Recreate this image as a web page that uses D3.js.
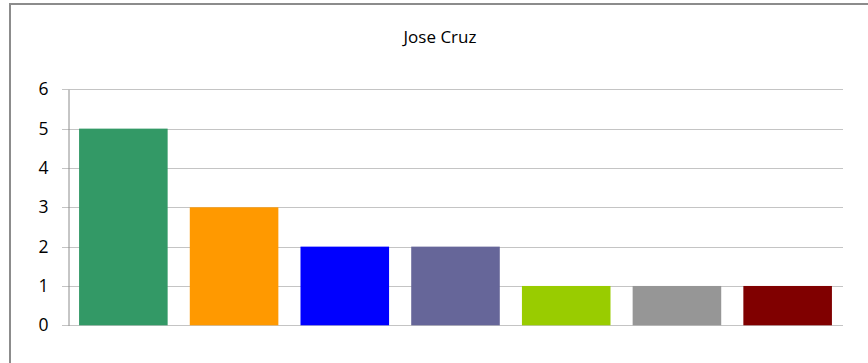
<!DOCTYPE html>
<html>
<head>
<meta charset="utf-8">
<script src="https://cdn.jsdelivr.net/npm/d3@7"></script>
<style>
  html, body { margin: 0; padding: 0; background: #fff; }
  svg { display: block; }
</style>
</head>
<body>
<div id="chart"></div>
<script>
const title = "Jose Cruz";
const categories = ["A", "B", "C", "D", "E", "F", "G"];
const values = [5, 3, 2, 2, 1, 1, 1];
const colors = ["#339966", "#FF9900", "#0000FF", "#666699", "#99CC00", "#969696", "#800000"];
const yTicks = [0, 1, 2, 3, 4, 5, 6];

const W = 868, H = 363;
const svg = d3.select("#chart").append("svg").attr("width", W).attr("height", H);

// outer frame (only top and left edges visible)
svg.append("rect").attr("x", 10).attr("y", 4).attr("width", 900).attr("height", 400)
  .attr("fill", "#fff").attr("stroke", "#8c8c8c").attr("stroke-width", 2);

const mLeft = 68, mRight = 843, mTop = 89.3, mBottom = 325.3;
const x = d3.scaleBand().domain(categories).range([mLeft, mRight]).paddingInner(0.2).paddingOuter(0.1);
const y = d3.scaleLinear().domain([0, 6]).range([mBottom, mTop]);

// gridlines
svg.append("g").selectAll("line").data(yTicks).join("line")
  .attr("x1", mLeft - 6).attr("x2", mRight)
  .attr("y1", d => Math.round(y(d)) + 0.5).attr("y2", d => Math.round(y(d)) + 0.5)
  .attr("stroke", "#c4c4c4").attr("stroke-width", 1);

// bars
svg.append("g").selectAll("rect").data(values).join("rect")
  .attr("x", (d, i) => x(categories[i]))
  .attr("width", x.bandwidth())
  .attr("y", d => y(d))
  .attr("height", d => y(0) - y(d))
  .attr("fill", (d, i) => colors[i]);

// y axis
const yAxis = d3.axisLeft(y).tickValues(yTicks).tickFormat(d3.format("d")).tickSize(0).tickPadding(20);
const ga = svg.append("g").attr("transform", `translate(${mLeft + 0.5},0)`).call(yAxis);
ga.select(".domain").attr("stroke", "#8c8c8c");
ga.selectAll("text").attr("font-family", "'Open Sans', sans-serif").attr("font-size", 17.5).attr("fill", "#000");

// title
svg.append("text").attr("x", 440).attr("y", 43).attr("text-anchor", "middle")
  .attr("font-family", "'Open Sans', sans-serif").attr("font-size", 17).attr("fill", "#000")
  .text(title);
</script>
</body>
</html>
